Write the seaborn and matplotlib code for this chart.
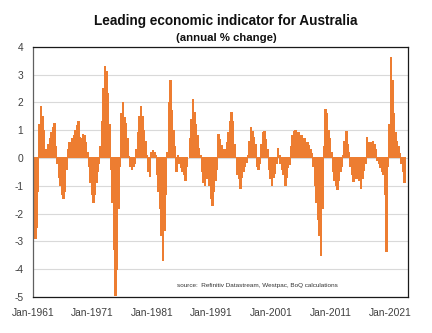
import matplotlib
matplotlib.use("Agg")
import matplotlib.pyplot as plt
import seaborn as sns
import pandas as pd

# Quarterly readings of the leading indicator (annual % change), starting Q1 1961
start_year = 1961
vals_1961_1970 = [-2.3, -2.9, -2.5, -1.2,
                  1.2, 1.85, 1.5, 1.0,
                  0.3, 0.3, 0.5, 0.7,
                  0.9, 1.1, 1.25, 0.4,
                  -0.2, -0.7, -1.0, -1.3,
                  -1.45, -1.2, -0.4, 0.3,
                  0.55, 0.45, 0.7, 0.8,
                  1.0, 1.15, 1.3, 0.75,
                  0.7, 0.85, 0.8, 0.55,
                  0.2, -0.3, -0.9, -1.3]
vals_1971_1980 = [-1.6, -1.3, -0.9, -0.5,
                  -0.2, 0.4, 1.3, 2.5,
                  3.3, 3.1, 2.3, 1.2,
                  -0.4, -1.6, -3.3, -4.95,
                  -4.0, -1.8, -0.3, 1.6,
                  2.0, 1.45, 1.25, 0.7,
                  0.05, -0.3, -0.4, -0.3,
                  -0.2, 0.3, 0.9, 1.5,
                  1.85, 1.5, 1.0, 0.6,
                  0.1, -0.5, -0.65, 0.2]
vals_1981_1990 = [0.25, 0.2, 0.1, -0.6,
                  -1.2, -1.8, -2.8, -3.7,
                  -2.6, -1.3, 0.2, 2.0,
                  2.8, 1.7, 1.0, 0.4,
                  -0.5, 0.1, -0.2, -0.35,
                  -0.5, -0.6, -0.8, -0.3,
                  0.0, 0.7, 1.4, 2.1,
                  1.65, 1.2, 0.8, 0.35,
                  0.1, -0.5, -0.9, -1.0,
                  -0.75, -0.65, -1.0, -1.45]
vals_1991_2000 = [-1.7, -1.2, -0.8, -0.4,
                  0.85, 0.65, 0.45, 0.3,
                  0.1, 0.3, 0.55, 0.9,
                  1.3, 1.65, 1.3, 0.5,
                  0.0, -0.6, -0.75, -1.1,
                  -0.7, -0.5, -0.3, -0.15,
                  0.1, 0.6, 1.1, 0.95,
                  0.75, 0.5, -0.3, -0.4,
                  -0.2, 0.5, 0.9, 0.95,
                  0.65, 0.3, -0.4, -0.75]
vals_2001_2010 = [-1.0, -0.7, -0.55, -0.2,
                  0.35, 0.1, -0.2, -0.4,
                  -0.6, -1.0, -0.7, -0.35,
                  -0.25, 0.4, 0.8, 0.95,
                  1.0, 0.8, 0.9, 0.7,
                  0.8, 0.6, 0.7, 0.5,
                  0.55, 0.45, 0.3, 0.15,
                  -0.3, -1.0, -1.6, -2.2,
                  -2.8, -3.5, -1.8, 0.4,
                  1.75, 1.6, 1.0, 0.7]
vals_2011_2020 = [0.2, -0.5, -0.8, -1.0,
                  -1.15, -0.8, -0.5, -0.3,
                  0.1, 0.6, 0.95, 0.5,
                  0.2, -0.3, -0.6, -0.85,
                  -0.7, -0.75, -0.65, -0.8,
                  -1.1, -0.75, -0.45, -0.2,
                  0.75, 0.55, 0.45, 0.55,
                  0.6, 0.5, 0.3, -0.1,
                  -0.2, -0.35, -0.5, -0.6,
                  -1.3, -3.35, -0.3, 1.2]
vals_2021_2023 = [3.6, 2.8, 1.6, 0.9,
                  0.6, 0.4, 0.15, -0.2,
                  -0.5, -0.9]

tick_years = [1961, 1971, 1981, 1991, 2001, 2011, 2021]
tick_labels = ["Jan-1961", "Jan-1971", "Jan-1981", "Jan-1991",
               "Jan-2001", "Jan-2011", "Jan-2021"]
y_ticks = [-5, -4, -3, -2, -1, 0, 1, 2, 3, 4]

values = (vals_1961_1970 + vals_1971_1980 + vals_1981_1990 + vals_1991_2000
          + vals_2001_2010 + vals_2011_2020 + vals_2021_2023)
step = 0.25  # one quarter
df = pd.DataFrame({
    "time": [start_year + step / 2 + step * i for i in range(len(values))],
    "value": values,
})

BAR = "#ED7D31"
sns.set_theme(style="white")
plt.rcParams["font.family"] = ["Liberation Sans", "DejaVu Sans"]

W, H = 432, 333
fig = plt.figure(figsize=(W / 100, H / 100), dpi=100)
ax = fig.add_axes([33 / W, 1 - 297 / H, 375 / W, (297 - 46.7) / H])

sns.barplot(data=df, x="time", y="value", native_scale=True, width=1.0,
            color=BAR, saturation=1, linewidth=0,
            errorbar=None, ax=ax)
# make adjacent quarterly bars touch (no white seams)
bar_w = step * 1.04
for p in ax.patches:
    c = p.get_x() + p.get_width() / 2
    p.set_width(bar_w)
    p.set_x(c - bar_w / 2)
    p.set_antialiased(False)
    p.set_snap(False)

ax.set_xlim(1961, 2024)
ax.set_ylim(-5, 4)
ax.set_xticks(tick_years)
ax.set_xticklabels(tick_labels)
ax.set_yticks(y_ticks)
ax.set_yticklabels([str(v) for v in y_ticks])
ax.set_xlabel("")
ax.set_ylabel("")
ax.set_axisbelow(True)
ax.yaxis.grid(True, color="#D9D9D9", linewidth=0.8)
ax.xaxis.grid(False)
ax.tick_params(axis="both", length=0, labelsize=7.4, colors="#404040")
ax.tick_params(axis="y", pad=7)
ax.tick_params(axis="x", pad=8)
for s in ax.spines.values():
    s.set_visible(True)
    s.set_color("#1a1a1a")
    s.set_linewidth(0.9)
ax.spines["left"].set_color("#606060")

fig.text(226 / W, 1 - 21 / H, "Leading economic indicator for Australia",
         ha="center", va="center", fontsize=9.8, fontweight="bold", color="#111111")
fig.text(226 / W, 1 - 38 / H, "(annual % change)",
         ha="center", va="center", fontsize=8.2, fontweight="bold", color="#111111")
fig.text(177 / W, 1 - 285.5 / H, "source:  Refinitiv Datastream, Westpac, BoQ calculations",
         ha="left", va="center", fontsize=4.6, color="#333333")

fig.savefig("out.png", dpi=100)
